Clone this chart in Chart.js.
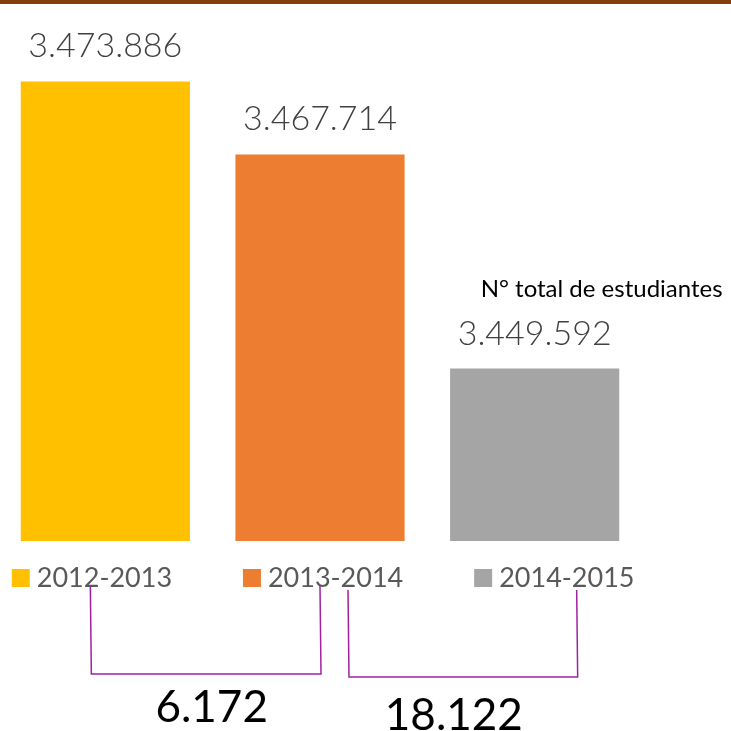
<!DOCTYPE html>
<html>
<head>
<meta charset="utf-8">
<script src="https://cdn.jsdelivr.net/npm/chart.js@4.4.1/dist/chart.umd.min.js"></script>
<style>
  html, body { margin: 0; padding: 0; background: #ffffff; overflow: hidden; }
  #wrap { position: relative; width: 731px; height: 731px; overflow: hidden; }
  #c { position: absolute; left: -2px; top: 0; }
</style>
</head>
<body>
<div id="wrap"><canvas id="c" width="733" height="731"></canvas></div>
<script>
// ---- Data ----
const categories = ['2012-2013', '2013-2014', '2014-2015'];
const students = [3473886, 3467714, 3449592];
const differences = [6172, 18122];
const barColors = ['#FFC000', '#ED7D31', '#A5A5A5'];
const titleText = 'N° total de estudiantes';

function fmt(n) {
  return String(n).replace(/\B(?=(\d{3})+(?!\d))/g, '.');
}

const FONT = 'Lato, "Open Sans", sans-serif';

const decor = {
  id: 'decor',
  beforeDraw(chart) {
    const ctx = chart.ctx;
    ctx.save();
    ctx.fillStyle = '#ffffff';
    ctx.fillRect(0, 0, chart.width, chart.height);
    ctx.fillStyle = '#843C0C';
    ctx.fillRect(0, 0, chart.width, 4);
    ctx.restore();
  },
  afterDatasetsDraw(chart) {
    const ctx = chart.ctx;
    const meta = chart.getDatasetMeta(0);
    ctx.save();
    // value labels
    ctx.fillStyle = '#404040';
    ctx.font = '300 34px ' + FONT;
    ctx.textAlign = 'center';
    ctx.textBaseline = 'bottom';
    meta.data.forEach((bar, i) => {
      ctx.fillText(fmt(students[i]), bar.x, bar.y - 18);
    });
    // title
    ctx.fillStyle = '#000000';
    ctx.font = '24px ' + FONT;
    ctx.textAlign = 'left';
    ctx.textBaseline = 'middle';
    ctx.fillText(titleText, meta.data[2].x - 54, 289);
    // legend
    const legY = 578;
    const first = meta.data[0];
    const legStart = first.x - first.width / 2 - 9;
    const legStep = (meta.data[1].x - meta.data[0].x) * 1.077;
    ctx.font = '27px ' + FONT;
    ctx.textBaseline = 'middle';
    meta.data.forEach((bar, i) => {
      const left = legStart + i * legStep;
      ctx.fillStyle = barColors[i];
      ctx.fillRect(left, legY - 9, 18, 18);
      ctx.fillStyle = '#595959';
      ctx.fillText(categories[i], left + 25, legY);
    });
    // brackets
    ctx.strokeStyle = '#A020A0';
    ctx.lineWidth = 1.5;
    const c0 = meta.data[0].x, c1 = meta.data[1].x, c2 = meta.data[2].x;
    const brackets = [
      {x1: c0 - 15, x2: c1 + 1, top: 586, bottom: 674, dx: 6, dy: 48},
      {x1: c1 + 28, x2: c2 + 43, top: 590, bottom: 677, dx: -9, dy: 53}
    ];
    brackets.forEach((b, i) => {
      ctx.beginPath();
      ctx.moveTo(b.x1, b.top);
      ctx.lineTo(b.x1 + 1, b.bottom);
      ctx.lineTo(b.x2, b.bottom);
      ctx.lineTo(b.x2 - 1, b.top);
      ctx.stroke();
      ctx.fillStyle = '#000000';
      ctx.font = '44px ' + FONT;
      ctx.textAlign = 'center';
      ctx.textBaseline = 'alphabetic';
      ctx.fillText(fmt(differences[i]), (b.x1 + b.x2) / 2 + b.dx, b.bottom + b.dy);
    });
    ctx.restore();
  }
};

new Chart(document.getElementById('c'), {
  type: 'bar',
  data: {
    labels: categories,
    datasets: [{
      label: titleText,
      data: students,
      backgroundColor: barColors,
      borderWidth: 0,
      barPercentage: 0.788,
      categoryPercentage: 1
    }]
  },
  options: {
    responsive: false,
    animation: false,
    layout: { padding: { top: 21, bottom: 190, left: 0, right: 89 } },
    plugins: { legend: { display: false }, tooltip: { enabled: false }, title: { display: false } },
    scales: {
      x: { display: false },
      y: { display: false, min: 3435000, max: 3479000 }
    }
  },
  plugins: [decor]
});
</script>
</body>
</html>
